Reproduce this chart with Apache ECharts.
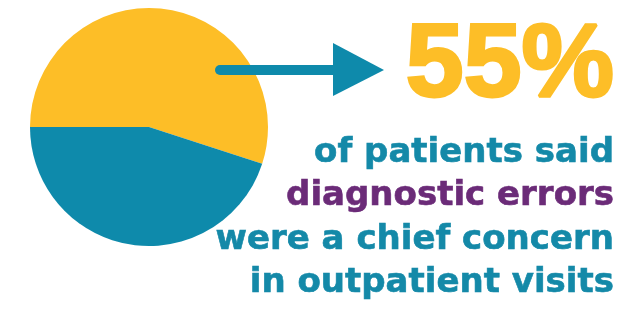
<!DOCTYPE html>
<html>
<head>
<meta charset="utf-8">
<script src="https://cdn.jsdelivr.net/npm/echarts@6/dist/echarts.min.js"></script>
<style>
html,body{margin:0;padding:0;background:#fff;}
#chart{width:641px;height:325px;}
</style>
</head>
<body>
<div id="chart"></div>
<script>
// Data
const sliceNames = ['Chief concern', 'Other'];
const sliceValues = [55, 45];
const headline = '55%';
const captionLines = ['of patients said', 'diagnostic errors', 'were a chief concern', 'in outpatient visits'];
const captionColors = ['#1489A8', '#6B2B78', '#1489A8', '#1489A8'];

const YELLOW = '#FDBE27';
const TEAL = '#0E8AAB';

const chart = echarts.init(document.getElementById('chart'), null, {renderer: 'canvas'});

const captionElems = captionLines.map((t, i) => ({
  type: 'text',
  x: 614,
  y: 153 + i * 43.5,
  z: 100,
  silent: true,
  style: {
    text: t,
    fill: captionColors[i],
    font: 'bold 34px "DejaVu Sans"',
    align: 'right',
    verticalAlign: 'middle',
    stroke: captionColors[i],
    lineWidth: 0.6
  }
}));

const option = {
  backgroundColor: '#ffffff',
  animation: false,
  series: [{
    type: 'pie',
    center: [149, 127],
    radius: 119,
    startAngle: 180,
    clockwise: true,
    silent: true,
    z: 1,
    label: {show: false},
    labelLine: {show: false},
    itemStyle: {borderWidth: 0},
    data: sliceNames.map((n, i) => ({
      name: n,
      value: sliceValues[i],
      itemStyle: {color: i === 0 ? YELLOW : TEAL}
    }))
  }],
  graphic: {
    elements: [
      {
        type: 'line',
        z: 100,
        silent: true,
        shape: {x1: 220, y1: 70, x2: 340, y2: 70},
        style: {stroke: TEAL, lineWidth: 10, lineCap: 'round'}
      },
      {
        type: 'polygon',
        z: 100,
        silent: true,
        shape: {points: [[333, 43], [384, 70], [333, 96]]},
        style: {fill: TEAL}
      },
      {
        type: 'text',
        x: 614,
        y: 67,
        z: 100,
        silent: true,
        style: {
          text: headline,
          fill: YELLOW,
          font: 'bold 104px "Liberation Sans"',
          align: 'right',
          verticalAlign: 'middle',
          stroke: YELLOW,
          lineWidth: 3
        }
      }
    ].concat(captionElems)
  }
};
chart.setOption(option);
</script>
</body>
</html>
